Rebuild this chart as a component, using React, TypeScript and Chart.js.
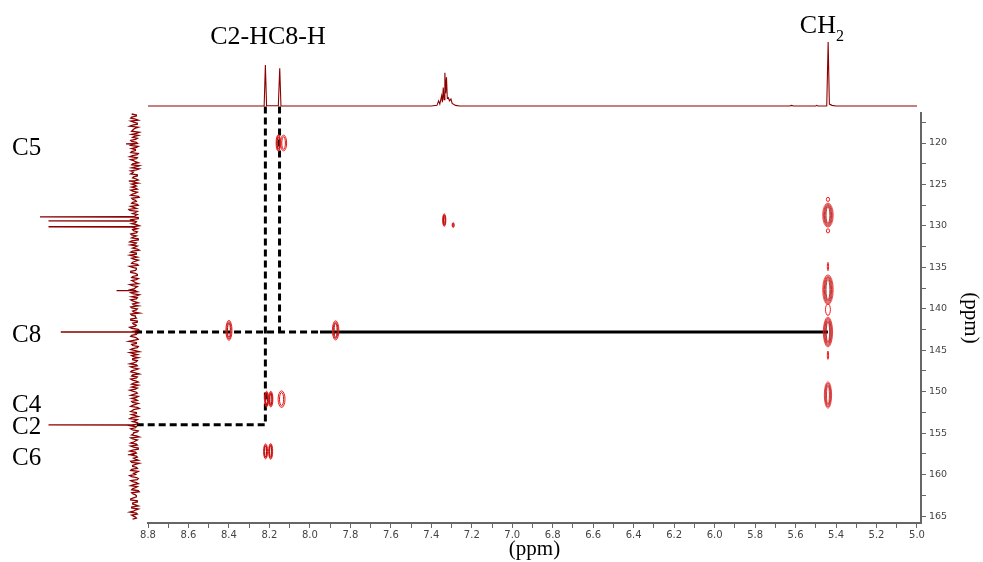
import React, { useEffect, useRef } from 'react';
import { Chart, registerables } from 'chart.js';

Chart.register(...registerables);

// ---------------- data ----------------
// 1H projection (ppm, relative intensity; CH2 = 100)
const H_PPM = [8.8, 8.226, 8.22, 8.214, 8.156, 8.149, 8.143, 7.40, 7.372, 7.364, 7.358, 7.349, 7.345, 7.341, 7.337, 7.333, 7.329, 7.325, 7.321, 7.316, 7.310, 7.303, 7.297, 7.28, 7.26, 5.63, 5.62, 5.61, 5.50, 5.495, 5.49, 5.446, 5.439, 5.433, 5.42, 5.40, 5.0];
const H_INT = [0, 0, 64, 0.5, 0.5, 59, 0, 0, 1, 8, 3, 16, 6, 29, 10, 52, 20, 45, 12, 13, 8, 11, 4, 1, 0, 0, 1, 0, 0, 1, 0, 0, 100, 3, 1, 0, 0];

// 13C projection: peaks (ppm, relative intensity) and baseline noise (two interleaved sample sets)
const C_PEAK_PPM = [120.1, 124.6, 128.9, 129.4, 130.1, 137.8, 142.8, 154.0, 157.6];
const C_PEAK_INT = [9, 6, 100, 91, 91, 19, 78, 91, 7];
const C_NOISE_START = 116.5;
const C_NOISE_STEP = 0.245;
const C_NOISE = [
  3, -2, 4, -4, 1, -3, 5, -1, 2, -5, 3, 0, -3, 4, -2, 2, -4, 3, -1, 4,
  -3, 5, -2, 1, -4, 3, -1, -5, 4, 2, -3, 1, -2, 5, -4, 0, 3, -3, 2, -1,
  4, -5, 2, -2, 3, -4, 1, 6, -3, 2, -1, -4, 4, -2, 3, -5, 1, 2, -3, 4,
  -2, 3, -4, 5, -1, -3, 2, -5, 4, -2, 1, 3, -4, 2, -3, 5, -2, -1, 4, -3,
  2, -4, 3, -1, 5, -3, 0, -2, 4, -5, 3, -2, 2, -4, 1, 4, -3, 2, -5, 3,
  -1, 4, -3, 2, -2, 5, -4, 1, -3, 3, -1, -4, 6, -2, 2, -3, 4, -5, 1, 3,
  -4, 2, -2, 5, -3, 1, -1, 4, -5, 3, -2, 2, -4, 3, 0, -3, 5, -2, 1, -4,
  3, -3, 2, -1, 4, -5, 2, -2, 3, -4, 5, -1, -3, 2, -2, 4, -4, 1, 3, -5,
  2, -1, 4, -3, 1, -4, 5, -2, 3, -3, -1, 4, -5, 2, -2, 3, -4, 1, 5, -2,
  -3, 2, -4, 4, -1, 3, -5, 2, -2, 1, 4, -3, 2, -4, 3, -1, 5, -3, 1, -2,
];
const C_NOISE_MID = [
  -2, 3, -1, 4, -3, 2, -4, 1, 3, -2, -4, 2, -1, 3, -3, 4, -2, -1, 3, -4,
  2, -3, 4, -1, 2, -5, 3, -2, 1, 4, -3, 2, -4, 1, 3, -2, -1, 4, -3, 2,
  -4, 3, -1, 2, -3, 4, -2, 5, -1, -3, 2, -4, 3, -1, -2, 4, -3, 1, -2, 3,
  1, -4, 3, -2, 4, -1, -3, 2, -2, 5, -3, 1, -1, 3, -4, 2, -2, 4, -1, -3,
  3, -2, 1, -4, 2, -1, 4, -3, 2, -2, -3, 4, -1, 2, -4, 3, -2, 1, 4, -1,
  -2, 4, -3, 1, -1, 3, -5, 2, -2, 4, -3, 1, -2, 3, -4, 2, -1, 5, -3, 1,
  2, -3, 1, -2, 4, -4, 3, -1, 2, -3, 4, -2, 1, -4, 3, -1, 2, -3, 4, -2,
  -1, 3, -4, 2, -3, 1, 4, -2, -1, 3, -3, 2, -4, 4, -1, 2, -3, 1, -2, 4,
  -3, 1, -2, 4, -4, 2, -1, 3, -2, 1, -4, 3, -1, 2, -3, 4, -2, -1, 3, -4,
  4, -2, 1, -3, 2, -4, 3, -1, -2, 4, -3, 2, -1, 3, -4, 1, -2, 3, -1, 2,
];

// HMBC cross peaks: 1H ppm, 13C ppm, half-widths (ppm) and number of contour levels
const XP_H = [8.156, 8.13, 7.336, 7.292, 8.400, 7.873, 8.214, 8.193, 8.140, 8.219, 8.194, 5.44, 5.44, 5.44, 5.44, 5.44, 5.44, 5.44, 5.44, 5.44];
const XP_C = [120.0, 120.0, 129.3, 129.9, 142.6, 142.6, 150.9, 150.9, 150.9, 157.2, 157.2, 128.7, 137.7, 142.8, 150.4, 126.8, 130.6, 134.9, 140.1, 145.6];
const XP_HW = [0.011, 0.015, 0.008, 0.005, 0.015, 0.016, 0.010, 0.010, 0.017, 0.010, 0.010, 0.026, 0.026, 0.023, 0.018, 0.008, 0.008, 0.003, 0.012, 0.003];
const XP_CW = [1.0, 0.95, 0.75, 0.3, 1.2, 1.15, 0.95, 0.95, 1.0, 0.9, 0.95, 1.45, 1.8, 1.8, 1.6, 0.25, 0.25, 0.5, 0.7, 0.5];
const XP_LV = [3, 2, 3, 2, 3, 3, 3, 3, 2, 3, 3, 5, 5, 5, 4, 1, 1, 1, 1, 1];

// assignments / connectors
const H2_PPM = 8.22;
const H8_PPM = 8.15;
const C2_PPM = 154.0;
const C8_PPM = 142.8;
const CH2_PPM = 5.44;
const LINK_TOP_PPM = 115.6;
const LINK_LEFT_PPM = 8.864;
const LINK_SOLID_FROM = 7.95;

// axes
const X_MIN = 4.9802;
const X_MAX = 8.8;
const Y_MIN = 116.38;
const Y_MAX = 165.84;
const X_TICKS = [5.0, 5.1, 5.2, 5.3, 5.4, 5.5, 5.6, 5.7, 5.8, 5.9, 6.0, 6.1, 6.2, 6.3, 6.4, 6.5, 6.6, 6.7, 6.8, 6.9, 7.0, 7.1, 7.2, 7.3, 7.4, 7.5, 7.6, 7.7, 7.8, 7.9, 8.0, 8.1, 8.2, 8.3, 8.4, 8.5, 8.6, 8.7, 8.8];
const Y_TICKS = [117.5, 120, 122.5, 125, 127.5, 130, 132.5, 135, 137.5, 140, 142.5, 145, 147.5, 150, 152.5, 155, 157.5, 160, 162.5, 165];

// labels
const C_LABELS = ['C5', 'C8', 'C4', 'C2', 'C6'];
const C_LABEL_PPM = [120.4, 143.0, 151.4, 154.05, 157.8];
const TOP_LABEL = 'C2-HC8-H';
const TOP_LABEL_PPM = 8.207;
const CH2_LABEL_PPM = 5.47;

// ---------------- layout helpers ----------------
const W = 983;
const H = 562;
const AREA = { left: 148, top: 113, right: 921, bottom: 523 };

function auxRange(lenPx: number, baseDist: number, fullDist: number, full: number) {
  const perUnit = (fullDist - baseDist) / full;
  const min = -baseDist / perUnit;
  return { min, max: min + lenPx / perUnit };
}
// 1H trace: baseline at y=106, tallest peak at y=42
const TOP_R = auxRange(AREA.bottom - AREA.top, AREA.bottom - 106, AREA.bottom - 42, 100);
// 13C trace: baseline at x=134.5, tallest peak at x=40 (scale reversed)
const LEFT_R = auxRange(AREA.right - AREA.left, AREA.right - 134.5, AREA.right - 40, 100);

const SPEC_COLOR = '#8b0000';

function buildCarbonTrace() {
  const pts: { x: number; y: number }[] = [];
  C_NOISE.forEach((v, i) => pts.push({ x: v, y: C_NOISE_START + i * C_NOISE_STEP }));
  C_NOISE_MID.forEach((v, i) => pts.push({ x: v, y: C_NOISE_START + (i + 0.5) * C_NOISE_STEP }));
  C_PEAK_PPM.forEach((p, i) => {
    pts.push({ x: 0, y: p - 0.03 });
    pts.push({ x: C_PEAK_INT[i], y: p });
    pts.push({ x: 0, y: p + 0.03 });
  });
  pts.sort((a, b) => a.y - b.y);
  return pts;
}

const contourPlugin = {
  id: 'contours',
  afterDatasetsDraw(chart: any) {
    const { ctx, scales } = chart;
    const x = scales.x;
    const y = scales.y;
    ctx.save();
    for (let i = 0; i < XP_H.length; i++) {
      const cx = x.getPixelForValue(XP_H[i]);
      const cy = y.getPixelForValue(XP_C[i]);
      const rx = Math.abs(x.getPixelForValue(XP_H[i] + XP_HW[i]) - cx);
      const ry = Math.abs(y.getPixelForValue(XP_C[i] + XP_CW[i]) - cy);
      const n = XP_LV[i];
      for (let k = 0; k < n; k++) {
        const fx = 1 - (k * 0.8) / n;
        const fy = 1 - (k * 0.4) / n;
        ctx.strokeStyle = k === 0 ? '#f51a1a' : k % 2 ? '#d01515' : '#a80c0c';
        ctx.lineWidth = n > 3 ? 0.8 : 1;
        ctx.beginPath();
        ctx.ellipse(cx, cy, Math.max(rx * fx, 0.6), Math.max(ry * fy, 0.6), 0, 0, Math.PI * 2);
        ctx.stroke();
      }
    }
    ctx.restore();
  },
};

const labelPlugin = {
  id: 'labels',
  afterDraw(chart: any) {
    const { ctx, scales } = chart;
    const x = scales.x;
    const y = scales.y;
    ctx.save();
    ctx.fillStyle = '#000';
    ctx.font = '25px "Liberation Serif"';
    ctx.textAlign = 'left';
    ctx.textBaseline = 'alphabetic';
    C_LABELS.forEach((t, i) => {
      ctx.fillText(t, 12, y.getPixelForValue(C_LABEL_PPM[i]) + 8.3);
    });
    ctx.font = '26px "Liberation Serif"';
    ctx.textAlign = 'center';
    ctx.fillText(TOP_LABEL, x.getPixelForValue(TOP_LABEL_PPM), 44);
    // CH2 with subscript
    const wCH = ctx.measureText('CH').width;
    ctx.font = '16px "Liberation Serif"';
    const w2 = ctx.measureText('2').width;
    const cx = x.getPixelForValue(CH2_LABEL_PPM);
    const start = cx - (wCH + w2) / 2;
    ctx.textAlign = 'left';
    ctx.font = '26px "Liberation Serif"';
    ctx.fillText('CH', start, 33);
    ctx.font = '16px "Liberation Serif"';
    ctx.fillText('2', start + wCH, 41);
    ctx.restore();
  },
};

export default function App() {
  const ref = useRef<HTMLCanvasElement>(null);
  useEffect(() => {
    const canvas = ref.current;
    if (!canvas) return;
    const tickFont = { family: 'DejaVu Sans', size: 10 };
    const titleFont = { family: 'Liberation Serif', size: 21 };
    const lineBase = { showLine: true, pointRadius: 0, clip: false as any, borderCapStyle: 'butt' as const };
    const chart = new Chart(canvas, {
      type: 'scatter',
      data: {
        datasets: [
          {
            ...lineBase,
            data: H_PPM.map((p, i) => ({ x: p, y: H_INT[i] })),
            xAxisID: 'x',
            yAxisID: 'yTop',
            borderColor: SPEC_COLOR,
            borderWidth: 1.1,
          },
          {
            ...lineBase,
            data: buildCarbonTrace(),
            xAxisID: 'xLeft',
            yAxisID: 'y',
            borderColor: SPEC_COLOR,
            borderWidth: 1.3,
          },
          {
            ...lineBase,
            data: [
              { x: H2_PPM, y: LINK_TOP_PPM },
              { x: H2_PPM, y: C2_PPM },
              { x: LINK_LEFT_PPM, y: C2_PPM },
            ],
            xAxisID: 'x',
            yAxisID: 'y',
            borderColor: '#000',
            borderWidth: 3,
            borderDash: [7, 4],
          },
          {
            ...lineBase,
            data: [
              { x: H8_PPM, y: LINK_TOP_PPM },
              { x: H8_PPM, y: C8_PPM },
            ],
            xAxisID: 'x',
            yAxisID: 'y',
            borderColor: '#000',
            borderWidth: 3,
            borderDash: [7, 4],
          },
          {
            ...lineBase,
            data: [
              { x: LINK_LEFT_PPM, y: C8_PPM },
              { x: LINK_SOLID_FROM, y: C8_PPM },
            ],
            xAxisID: 'x',
            yAxisID: 'y',
            borderColor: '#000',
            borderWidth: 3,
            borderDash: [7, 4],
          },
          {
            ...lineBase,
            data: [
              { x: LINK_SOLID_FROM, y: C8_PPM },
              { x: CH2_PPM, y: C8_PPM },
            ],
            xAxisID: 'x',
            yAxisID: 'y',
            borderColor: '#000',
            borderWidth: 3,
          },
        ],
      },
      options: {
        responsive: false,
        maintainAspectRatio: false,
        animation: false,
        devicePixelRatio: 1,
        events: [],
        layout: { padding: { left: AREA.left, top: AREA.top, right: 0, bottom: 0 } },
        plugins: { legend: { display: false }, tooltip: { enabled: false }, title: { display: false } },
        scales: {
          x: {
            type: 'linear',
            position: 'bottom',
            reverse: true,
            min: X_MIN,
            max: X_MAX,
            afterBuildTicks: (s: any) => {
              s.ticks = X_TICKS.map((v) => ({ value: v }));
            },
            afterFit: (s: any) => {
              s.height = H - AREA.bottom;
            },
            ticks: {
              autoSkip: false,
              maxRotation: 0,
              minRotation: 0,
              padding: 1,
              color: '#444',
              font: tickFont,
              callback: (v: any) => (Math.round(Number(v) * 10) % 2 === 0 ? Number(v).toFixed(1) : ''),
            },
            grid: { drawOnChartArea: false, tickLength: 5, color: '#666', tickWidth: 1 },
            border: { color: '#666', width: 2 },
            title: { display: true, text: '(ppm)', color: '#000', font: titleFont, padding: 0 },
          },
          y: {
            type: 'linear',
            position: 'right',
            reverse: true,
            min: Y_MIN,
            max: Y_MAX,
            afterBuildTicks: (s: any) => {
              s.ticks = Y_TICKS.map((v) => ({ value: v }));
            },
            afterFit: (s: any) => {
              s.width = W - AREA.right;
            },
            ticks: {
              autoSkip: false,
              padding: 3,
              color: '#444',
              font: { family: 'DejaVu Sans', size: 9.5 },
              callback: (v: any) => (Number(v) % 5 === 0 ? String(Number(v)) : ''),
            },
            grid: { drawOnChartArea: false, tickLength: 5, color: '#666', tickWidth: 1 },
            border: { color: '#666', width: 2 },
            title: { display: true, text: '(ppm)', color: '#000', font: titleFont, padding: 0 },
          },
          yTop: {
            type: 'linear',
            axis: 'y',
            position: 'left',
            display: false,
            min: TOP_R.min,
            max: TOP_R.max,
          } as any,
          xLeft: {
            type: 'linear',
            axis: 'x',
            position: 'top',
            display: false,
            reverse: true,
            min: LEFT_R.min,
            max: LEFT_R.max,
          } as any,
        },
      },
      plugins: [contourPlugin, labelPlugin],
    } as any);
    return () => chart.destroy();
  }, []);
  return (
    <div style={{ position: 'fixed', left: 0, top: 0, width: W, height: H, background: '#fff' }}>
      <canvas ref={ref} width={W} height={H} style={{ display: 'block' }} />
    </div>
  );
}
